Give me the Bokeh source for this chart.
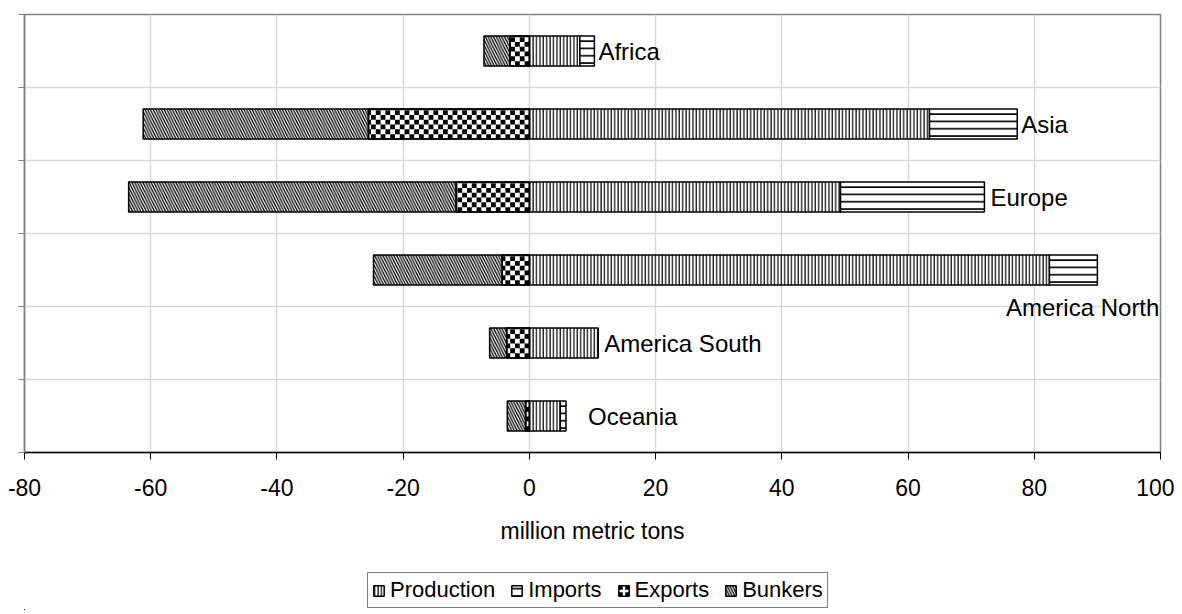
import math
import numpy as np
from bokeh.plotting import figure
from bokeh.layouts import column
from bokeh.models import Range1d, FixedTicker, Legend, LegendItem, ColumnDataSource
from bokeh.embed import file_html
from bokeh.resources import INLINE
from bokeh.core.properties import value

# ---- data (million metric tons) ----
regions = ["Africa", "Asia", "Europe", "America North", "America South", "Oceania"]
production = [8.0, 63.4, 49.3, 82.4, 10.9, 4.9]
imports = [2.3, 13.9, 22.8, 7.6, 0.0, 0.9]
exports = [3.1, 25.5, 11.6, 4.3, 3.6, 0.6]
bunkers = [4.1, 35.7, 51.9, 20.4, 2.7, 2.9]
x_ticks = [-80, -60, -40, -20, 0, 20, 40, 60, 80, 100]

FONT = "Liberation Sans"
X0, X1 = -80, 100
n = len(regions)
ypos = np.arange(n)[::-1].astype(float)  # Africa on top
prod = np.array(production)
imp = np.array(imports)
exp_ = np.array(exports)
bunk = np.array(bunkers)

src = ColumnDataSource(dict(
    y=ypos, region=regions,
    p_l=np.zeros(n), p_r=prod,
    i_l=prod, i_r=prod + imp,
    e_l=-exp_, e_r=np.zeros(n),
    b_l=-(exp_ + bunk), b_r=-exp_,
    total=prod + imp,
))

W, H = 1174, 554
BL, BT, BR, BB = 24, 14, 14, 102
p = figure(width=W, height=H, output_backend="svg", toolbar_location=None,
           x_range=Range1d(X0, X1), y_range=Range1d(-0.5, n - 0.5),
           min_border_left=BL, min_border_top=BT, min_border_right=BR,
           min_border_bottom=BB)
p.outline_line_color = "#808080"
p.outline_line_width = 1.5

styles = dict(
    prod=dict(hatch_pattern="vertical_line", hatch_scale=3.4, hatch_weight=1.2),
    imp=dict(hatch_pattern="horizontal_line", hatch_scale=7.3, hatch_weight=1.6),
    bunk=dict(hatch_pattern="left_diagonal_line", hatch_scale=5.5, hatch_weight=1.3),
)
base = dict(line_color="black", line_width=1.5, fill_color="white", hatch_color="black")

bh = 0.41
r_prod = p.hbar(y="y", left="p_l", right="p_r", height=bh, source=src, **base, **styles["prod"])
r_imp = p.hbar(y="y", left="i_l", right="i_r", height=bh, source=src, **base, **styles["imp"])
r_exp = p.hbar(y="y", left="e_l", right="e_r", height=bh, source=src, **base)
r_bunk = p.hbar(y="y", left="b_l", right="b_r", height=bh, source=src, **base, **styles["bunk"])

# checkerboard fill for the Exports segments (squares of ~4.8 px inside each bar)
frame_w = W - BL - BR
frame_h = H - BT - BB
sq = 4.8
sx = sq * (X1 - X0) / frame_w
sy = sq * n / frame_h
cl, cr, cb, ct = [], [], [], []
for i in range(n):
    left_edge = -exp_[i]
    y0, y1 = ypos[i] - bh / 2, ypos[i] + bh / 2
    for c in range(math.ceil(exp_[i] / sx)):
        for r in range(math.ceil(bh / sy)):
            if (c + r) % 2 == 0:
                cl.append(max(left_edge, -(c + 1) * sx))
                cr.append(-c * sx)
                cb.append(y0 + r * sy)
                ct.append(min(y1, y0 + (r + 1) * sy))
p.quad(left=cl, right=cr, bottom=cb, top=ct, fill_color="black", line_color=None)
p.hbar(y="y", left="e_l", right="e_r", height=bh, source=src, fill_color=None,
       line_color="black", line_width=1.5)

# data labels (America North sits below its bar, right-aligned)
keep = [i for i in range(n) if regions[i] != "America North"]
lab_left = ColumnDataSource(dict(
    x=[src.data["total"][i] for i in keep],
    y=[ypos[i] for i in keep],
    t=[regions[i] for i in keep],
    xo=[4, 4, 6, 6, 22],
))
ia = regions.index("America North")
lab_right = ColumnDataSource(dict(x=[src.data["total"][ia]], y=[ypos[ia]], t=[regions[ia]]))
txt = dict(text_font=value(FONT), text_font_size="24px", text_color="black",
           text_baseline="middle")
p.text(x="x", y="y", text="t", source=lab_left, x_offset="xo", text_align="left", **txt)
p.text(x="x", y="y", text="t", source=lab_right, x_offset=62, y_offset=37,
       text_align="right", **txt)

# axes
xa = p.xaxis[0]
xa.ticker = FixedTicker(ticks=x_ticks)
xa.major_label_overrides = {t: str(t) for t in x_ticks}
xa.axis_line_color = "black"
xa.axis_line_width = 1.5
xa.major_tick_line_color = "black"
xa.major_tick_out = 7
xa.major_tick_in = 0
xa.minor_tick_line_color = None
xa.major_label_text_font = FONT
xa.major_label_text_font_size = "23px"
xa.major_label_text_color = "black"
xa.major_label_standoff = 19
xa.axis_label = "million metric tons"
xa.axis_label_text_font = FONT
xa.axis_label_text_font_size = "23px"
xa.axis_label_text_font_style = "normal"
xa.axis_label_text_color = "black"
xa.axis_label_standoff = 19

bounds = [i - 0.5 for i in range(n + 1)]
ya = p.yaxis[0]
ya.ticker = FixedTicker(ticks=bounds)
ya.major_label_overrides = {b: "" for b in bounds}
ya.axis_line_color = "#808080"
ya.axis_line_width = 1.5
ya.major_tick_line_color = "#808080"
ya.major_tick_out = 6
ya.major_tick_in = 0
ya.minor_tick_line_color = None
ya.major_label_standoff = 0

p.xgrid.ticker = FixedTicker(ticks=x_ticks)
p.xgrid.grid_line_color = "#d9d9d9"
p.xgrid.grid_line_width = 1.5
p.ygrid.ticker = FixedTicker(ticks=bounds)
p.ygrid.grid_line_color = "#d9d9d9"
p.ygrid.grid_line_width = 1.5

# ---- legend strip (separate svg figure under the chart; its bars lie outside its view) ----
lf = figure(width=W, height=56, output_backend="svg", toolbar_location=None,
            x_range=Range1d(1000, 1001), y_range=Range1d(1000, 1001),
            x_axis_location=None, y_axis_location=None, min_border=0)
lf.outline_line_color = None
lf.xgrid.visible = False
lf.ygrid.visible = False
names = ["Production", "Imports", "Exports", "Bunkers"]
leg_styles = [
    dict(**base, **styles["prod"]),
    dict(**base, **styles["imp"]),
    dict(line_color="black", line_width=1.5, fill_color="black", hatch_color="white",
         hatch_pattern="cross", hatch_scale=12, hatch_weight=2.5),
    dict(**base, **styles["bunk"]),
]
items = []
for name, st in zip(names, leg_styles):
    rr = lf.hbar(y="y", left="p_l", right="p_r", height=0.3, source=src, **st)
    items.append(LegendItem(label=name, renderers=[rr]))

legend = Legend(items=items, orientation="horizontal", location=(343, 2))
legend.label_text_font = FONT
legend.label_text_font_size = "22px"
legend.label_text_color = "black"
legend.border_line_color = "black"
legend.border_line_width = 1.5
legend.glyph_width = 13
legend.glyph_height = 13
legend.spacing = 15
legend.padding = 4
legend.margin = 0
legend.label_standoff = 5
lf.add_layout(legend, "center")

layout = column(p, lf, spacing=0)
open("out.html", "w").write(file_html(layout, INLINE))
